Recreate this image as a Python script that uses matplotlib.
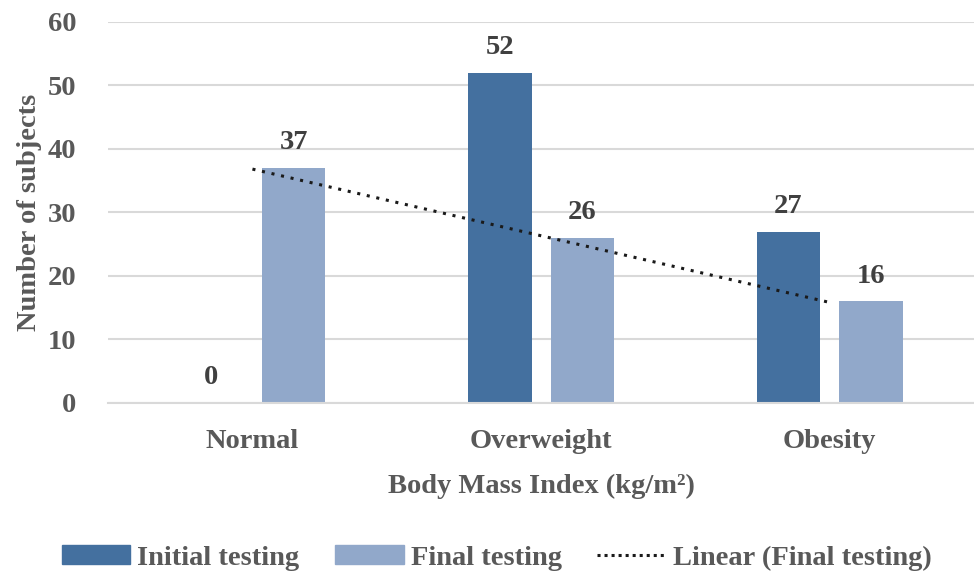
import numpy as np
import matplotlib
matplotlib.use("Agg")
import matplotlib.pyplot as plt
from matplotlib.patches import Patch
from matplotlib.lines import Line2D

categories = ["Normal", "Overweight", "Obesity"]
initial = [0, 52, 27]
final = [37, 26, 16]
series_names = ["Initial testing", "Final testing", "Linear (Final testing)"]
yticks = [0, 10, 20, 30, 40, 50, 60]

c_init = "#44709f"
c_final = "#91a8ca"
txt = "#595959"
val = "#404040"
fs = 20.5

plt.rcParams["font.family"] = ["Liberation Serif", "DejaVu Serif"]
plt.rcParams["font.weight"] = "bold"

fig = plt.figure(figsize=(9.74, 5.77), dpi=100)
ax = fig.add_axes([0.111, 0.3016, 0.889, 0.6603])

x = np.arange(len(categories))
w = 0.22
off = 0.143
ax.bar(x - off, initial, w, color=c_init, zorder=2)
ax.bar(x + off, final, w, color=c_final, zorder=2)

for xi, v in zip(x - off, initial):
    ax.text(xi, v + 2.0, str(v), ha="center", va="bottom", fontsize=fs, color=val, fontweight="bold")
for xi, v in zip(x + off, final):
    ax.text(xi, v + 2.0, str(v), ha="center", va="bottom", fontsize=fs, color=val, fontweight="bold")

# linear trendline of final testing
coef = np.polyfit(x + 1, final, 1)
trend = np.polyval(coef, x + 1)
ax.plot(x, trend, linestyle=(0, (1, 2.2)), color="#1a1a1a", linewidth=2.2, zorder=3)

ax.set_xlim(-0.5, 2.5)
ax.set_ylim(0, 60)
ax.set_yticks(yticks)
ax.set_yticklabels([str(t) for t in yticks], fontsize=fs, color=txt, fontweight="bold")
ax.set_xticks(x)
ax.set_xticklabels(categories, fontsize=fs, color=txt, fontweight="bold")
ax.tick_params(axis="both", length=0)
ax.tick_params(axis="y", pad=23)
ax.tick_params(axis="x", pad=19)
ax.grid(axis="y", color="#d9d9d9", linewidth=1.5, zorder=0)
ax.set_axisbelow(True)
for s in ["top", "right", "left"]:
    ax.spines[s].set_visible(False)
ax.spines["bottom"].set_color("#d9d9d9")
ax.spines["bottom"].set_linewidth(1.5)

ax.set_xlabel("Body Mass Index (kg/m²)", fontsize=fs, color=txt, fontweight="bold", labelpad=14)
ax.set_ylabel("Number of subjects", fontsize=fs, color=txt, fontweight="bold", labelpad=4)

handles = [Patch(color=c_init), Patch(color=c_final),
           Line2D([0], [0], color="#1a1a1a", linestyle=(0, (1, 1.3)), linewidth=2.2)]
fig.legend(handles, series_names, loc="center", bbox_to_anchor=(0.51, 0.033), ncol=3,
           frameon=False, prop={"size": fs, "weight": "bold"}, labelcolor=txt,
           handlelength=2.4, handleheight=0.63, handletextpad=0.25, columnspacing=1.25)

fig.savefig("out.png", dpi=100)
